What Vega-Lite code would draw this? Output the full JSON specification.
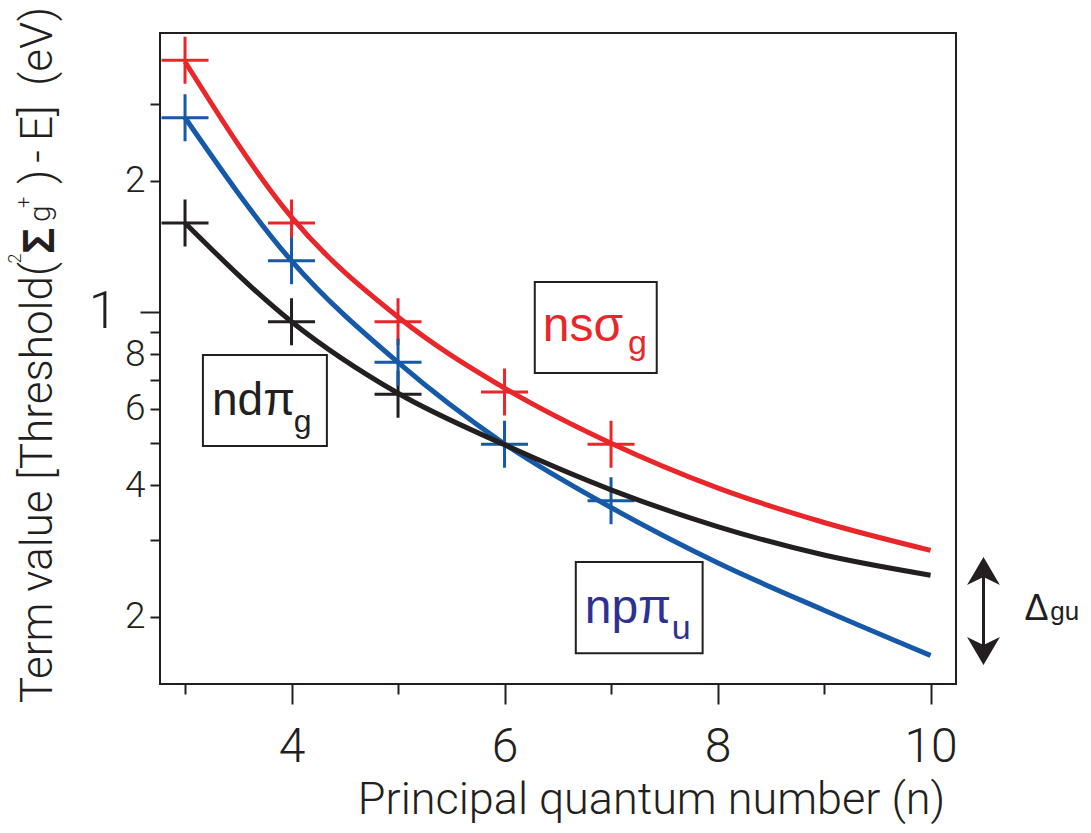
{
  "$schema": "https://vega.github.io/schema/vega-lite/v6.json",
  "width": 796,
  "height": 651,
  "autosize": {"type": "none"},
  "padding": {"left": 160, "top": 33, "right": 135, "bottom": 149},
  "background": "white",
  "config": {
    "view": {"stroke": "#231F20", "strokeWidth": 2},
    "text": {"font": "Roboto", "color": "#231F20"}
  },
  "datasets": {
    "curves": [
      {"series": "ns", "n": 3, "T": 3.75}, {"series": "ns", "n": 4, "T": 1.65}, {"series": "ns", "n": 5, "T": 0.974}, {"series": "ns", "n": 6, "T": 0.669},
      {"series": "ns", "n": 7, "T": 0.5}, {"series": "ns", "n": 8, "T": 0.395}, {"series": "ns", "n": 9, "T": 0.329}, {"series": "ns", "n": 10, "T": 0.284},
      {"series": "np", "n": 3, "T": 2.79}, {"series": "np", "n": 4, "T": 1.31}, {"series": "np", "n": 5, "T": 0.766}, {"series": "np", "n": 6, "T": 0.498},
      {"series": "np", "n": 7, "T": 0.356}, {"series": "np", "n": 8, "T": 0.266}, {"series": "np", "n": 9, "T": 0.207}, {"series": "np", "n": 10, "T": 0.163},
      {"series": "nd", "n": 3, "T": 1.6}, {"series": "nd", "n": 4, "T": 0.95}, {"series": "nd", "n": 5, "T": 0.651}, {"series": "nd", "n": 6, "T": 0.496},
      {"series": "nd", "n": 7, "T": 0.391}, {"series": "nd", "n": 8, "T": 0.322}, {"series": "nd", "n": 9, "T": 0.277}, {"series": "nd", "n": 10, "T": 0.249}
    ],
    "points": [
      {"series": "ns", "n": 3, "T": 3.78}, {"series": "ns", "n": 4, "T": 1.6}, {"series": "ns", "n": 5, "T": 0.95}, {"series": "ns", "n": 6, "T": 0.655}, {"series": "ns", "n": 7, "T": 0.497},
      {"series": "nd", "n": 3, "T": 1.6}, {"series": "nd", "n": 4, "T": 0.95}, {"series": "nd", "n": 5, "T": 0.648},
      {"series": "np", "n": 3, "T": 2.79}, {"series": "np", "n": 4, "T": 1.31}, {"series": "np", "n": 5, "T": 0.767}, {"series": "np", "n": 6, "T": 0.497}, {"series": "np", "n": 7, "T": 0.369}
    ]
  },
  "layer": [
    {
      "data": {"name": "points"},
      "mark": {"type": "point", "shape": "M-1,0L1,0M0,-1L0,1", "size": 2209, "strokeWidth": 3, "filled": false, "opacity": 1},
      "encoding": {
        "x": {
          "field": "n", "type": "quantitative",
          "scale": {"domain": [2.765, 10.239], "nice": false, "zero": false},
          "axis": {
            "values": [3, 4, 5, 6, 7, 8, 9, 10],
            "labelExpr": "datum.value % 2 == 0 ? format(datum.value, 'd') : ''",
            "tickSize": {"condition": {"test": "datum.value % 2 == 0", "value": 20}, "value": 10},
            "tickWidth": 2, "tickColor": "#231F20", "domain": false, "grid": false,
            "labelFont": "Roboto", "labelFontWeight": 300, "labelFontSize": 48, "labelColor": "#231F20",
            "labelPadding": 19, "labelFlush": false, "labelOverlap": false,
            "title": "Principal quantum number (n)", "titleFont": "Roboto", "titleFontSize": 45,
            "titleFontWeight": 300, "titleColor": "#231F20", "titleX": 491, "titleY": 129,
            "titleBaseline": "alphabetic", "titleAlign": "center"
          }
        },
        "y": {
          "field": "T", "type": "quantitative",
          "scale": {"type": "log", "domain": [0.1402, 4.364], "nice": false},
          "axis": {
            "values": [0.2, 0.3, 0.4, 0.5, 0.6, 0.7, 0.8, 0.9, 1, 2, 3],
            "labelExpr": "datum.value == 1 ? '1' : datum.value == 2 ? '2' : datum.value == 0.2 ? '2' : datum.value == 0.4 ? '4' : datum.value == 0.6 ? '6' : datum.value == 0.8 ? '8' : ''",
            "tickSize": {"condition": {"test": "datum.value == 1", "value": 20}, "value": 10},
            "labelFontSize": {"condition": {"test": "datum.value == 1", "value": 52}, "value": 37},
            "labelPadding": {"condition": {"test": "datum.value == 1", "value": 23}, "value": 5},
            "labelBaseline": "middle",
            "tickWidth": 2, "tickColor": "#231F20", "domain": false, "grid": false,
            "labelFont": "Roboto", "labelFontWeight": 300, "labelColor": "#231F20", "labelFlush": false, "labelOverlap": false,
            "title": null
          }
        },
        "color": {"field": "series", "type": "nominal", "scale": {"domain": ["ns", "np", "nd"], "range": ["#E9272B", "#1559A8", "#231F20"]}, "legend": null}
      }
    },
    {
      "data": {"name": "curves"},
      "transform": [{"filter": "datum.series == 'np'"}],
      "mark": {"type": "line", "interpolate": "monotone", "strokeWidth": 5, "color": "#1559A8"},
      "encoding": {"x": {"field": "n", "type": "quantitative"}, "y": {"field": "T", "type": "quantitative"}}
    },
    {
      "data": {"name": "curves"},
      "transform": [{"filter": "datum.series == 'nd'"}],
      "mark": {"type": "line", "interpolate": "monotone", "strokeWidth": 5, "color": "#231F20"},
      "encoding": {"x": {"field": "n", "type": "quantitative"}, "y": {"field": "T", "type": "quantitative"}}
    },
    {
      "data": {"name": "curves"},
      "transform": [{"filter": "datum.series == 'ns'"}],
      "mark": {"type": "line", "interpolate": "monotone", "strokeWidth": 5, "color": "#E9272B"},
      "encoding": {"x": {"field": "n", "type": "quantitative"}, "y": {"field": "T", "type": "quantitative"}}
    },
    {
      "data": {"values": [{"box": "nd"}]},
      "mark": {"type": "rect", "fill": "white", "stroke": "#231F20", "strokeWidth": 2},
      "encoding": {"x": {"datum": 3.168, "type": "quantitative"}, "x2": {"datum": 4.332}, "y": {"datum": 0.797, "type": "quantitative"}, "y2": {"datum": 0.493}}
    },
    {
      "data": {"values": [{"box": "ns"}]},
      "mark": {"type": "rect", "fill": "white", "stroke": "#231F20", "strokeWidth": 2},
      "encoding": {"x": {"datum": 6.284, "type": "quantitative"}, "x2": {"datum": 7.429}, "y": {"datum": 1.172, "type": "quantitative"}, "y2": {"datum": 0.725}}
    },
    {
      "data": {"values": [{"box": "np"}]},
      "mark": {"type": "rect", "fill": "white", "stroke": "#231F20", "strokeWidth": 2},
      "encoding": {"x": {"datum": 6.669, "type": "quantitative"}, "x2": {"datum": 7.86}, "y": {"datum": 0.267, "type": "quantitative"}, "y2": {"datum": 0.165}}
    },
    {
      "data": {"values": [{"t": "ndπ"}]},
      "mark": {"type": "text", "align": "left", "baseline": "alphabetic", "fontSize": 46, "font": "Liberation Sans", "color": "#231F20"},
      "encoding": {"x": {"datum": 3.253, "type": "quantitative"}, "y": {"datum": 0.58, "type": "quantitative"}, "text": {"field": "t"}}
    },
    {
      "data": {"values": [{"t": "g"}]},
      "mark": {"type": "text", "align": "left", "baseline": "alphabetic", "fontSize": 32, "font": "Liberation Sans", "color": "#231F20"},
      "encoding": {"x": {"datum": 4.02, "type": "quantitative"}, "y": {"datum": 0.531, "type": "quantitative"}, "text": {"field": "t"}}
    },
    {
      "data": {"values": [{"t": "nsσ"}]},
      "mark": {"type": "text", "align": "left", "baseline": "alphabetic", "fontSize": 48, "font": "Liberation Sans", "color": "#E9272B"},
      "encoding": {"x": {"datum": 6.359, "type": "quantitative"}, "y": {"datum": 0.858, "type": "quantitative"}, "text": {"field": "t"}}
    },
    {
      "data": {"values": [{"t": "g"}]},
      "mark": {"type": "text", "align": "left", "baseline": "alphabetic", "fontSize": 34, "font": "Liberation Sans", "color": "#E9272B"},
      "encoding": {"x": {"datum": 7.16, "type": "quantitative"}, "y": {"datum": 0.8, "type": "quantitative"}, "text": {"field": "t"}}
    },
    {
      "data": {"values": [{"t": "npπ"}]},
      "mark": {"type": "text", "align": "left", "baseline": "alphabetic", "fontSize": 48, "font": "Liberation Sans", "color": "#2E3192"},
      "encoding": {"x": {"datum": 6.753, "type": "quantitative"}, "y": {"datum": 0.194, "type": "quantitative"}, "text": {"field": "t"}}
    },
    {
      "data": {"values": [{"t": "u"}]},
      "mark": {"type": "text", "align": "left", "baseline": "alphabetic", "fontSize": 34, "font": "Liberation Sans", "color": "#2E3192"},
      "encoding": {"x": {"datum": 7.57, "type": "quantitative"}, "y": {"datum": 0.178, "type": "quantitative"}, "text": {"field": "t"}}
    },
    {
      "data": {"values": [{"t": "Δ"}]},
      "mark": {"type": "text", "align": "left", "baseline": "alphabetic", "fontSize": 36, "font": "Liberation Sans", "color": "#231F20"},
      "encoding": {"x": {"datum": 10.882, "type": "quantitative"}, "y": {"datum": 0.1966, "type": "quantitative"}, "text": {"field": "t"}}
    },
    {
      "data": {"values": [{"t": "gu"}]},
      "mark": {"type": "text", "align": "left", "baseline": "alphabetic", "fontSize": 26, "font": "Liberation Sans", "color": "#231F20"},
      "encoding": {"x": {"datum": 11.125, "type": "quantitative"}, "y": {"datum": 0.1966, "type": "quantitative"}, "text": {"field": "t"}}
    },
    {
      "data": {"values": [{"part": "shaft"}]},
      "mark": {"type": "rule", "strokeWidth": 3, "color": "#231F20"},
      "encoding": {"x": {"datum": 10.497, "type": "quantitative"}, "y": {"datum": 0.249, "type": "quantitative"}, "y2": {"datum": 0.172}}
    },
    {
      "data": {"values": [{"part": "head"}]},
      "mark": {"type": "point", "shape": "M0,-1L0.94,0.6L0,0.14L-0.94,0.6Z", "size": 1225, "filled": true, "opacity": 1, "color": "#231F20"},
      "encoding": {"x": {"datum": 10.497, "type": "quantitative"}, "y": {"datum": 0.25, "type": "quantitative"}}
    },
    {
      "data": {"values": [{"part": "head"}]},
      "mark": {"type": "point", "shape": "M0,1L0.94,-0.6L0,-0.14L-0.94,-0.6Z", "size": 1225, "filled": true, "opacity": 1, "color": "#231F20"},
      "encoding": {"x": {"datum": 10.497, "type": "quantitative"}, "y": {"datum": 0.17, "type": "quantitative"}}
    },
    {
      "data": {"values": [{"t": "Term value [Threshold("}]},
      "mark": {"type": "text", "angle": 270, "align": "right", "baseline": "alphabetic", "fontSize": 44, "fontWeight": 300, "font": "Roboto", "color": "#231F20"},
      "encoding": {"x": {"datum": 1.752, "type": "quantitative"}, "y": {"datum": 1.302, "type": "quantitative"}, "text": {"field": "t"}}
    },
    {
      "data": {"values": [{"t": "2"}]},
      "mark": {"type": "text", "angle": 270, "align": "left", "baseline": "alphabetic", "fontSize": 18, "fontWeight": 300, "font": "Roboto", "color": "#231F20"},
      "encoding": {"x": {"datum": 1.46, "type": "quantitative"}, "y": {"datum": 1.292, "type": "quantitative"}, "text": {"field": "t"}}
    },
    {
      "data": {"values": [{"t": "Σ"}]},
      "mark": {"type": "text", "angle": 270, "align": "left", "baseline": "alphabetic", "fontSize": 44, "fontWeight": "bold", "font": "Liberation Sans", "color": "#231F20"},
      "encoding": {"x": {"datum": 1.77, "type": "quantitative"}, "y": {"datum": 1.359, "type": "quantitative"}, "text": {"field": "t"}}
    },
    {
      "data": {"values": [{"t": "g"}]},
      "mark": {"type": "text", "angle": 270, "align": "left", "baseline": "alphabetic", "fontSize": 30, "fontWeight": 300, "font": "Roboto", "color": "#231F20"},
      "encoding": {"x": {"datum": 1.733, "type": "quantitative"}, "y": {"datum": 1.609, "type": "quantitative"}, "text": {"field": "t"}}
    },
    {
      "data": {"values": [{"t": "+"}]},
      "mark": {"type": "text", "angle": 270, "align": "left", "baseline": "alphabetic", "fontSize": 20, "fontWeight": 300, "font": "Roboto", "color": "#231F20"},
      "encoding": {"x": {"datum": 1.545, "type": "quantitative"}, "y": {"datum": 1.732, "type": "quantitative"}, "text": {"field": "t"}}
    },
    {
      "data": {"values": [{"t": ")"}]},
      "mark": {"type": "text", "angle": 270, "align": "left", "baseline": "alphabetic", "fontSize": 44, "fontWeight": 300, "font": "Roboto", "color": "#231F20"},
      "encoding": {"x": {"datum": 1.752, "type": "quantitative"}, "y": {"datum": 1.966, "type": "quantitative"}, "text": {"field": "t"}}
    },
    {
      "data": {"values": [{"t": "-"}]},
      "mark": {"type": "text", "angle": 270, "align": "center", "baseline": "alphabetic", "fontSize": 44, "fontWeight": 300, "font": "Roboto", "color": "#231F20"},
      "encoding": {"x": {"datum": 1.752, "type": "quantitative"}, "y": {"datum": 2.274, "type": "quantitative"}, "text": {"field": "t"}}
    },
    {
      "data": {"values": [{"t": "E]"}]},
      "mark": {"type": "text", "angle": 270, "align": "left", "baseline": "alphabetic", "fontSize": 44, "fontWeight": 300, "font": "Roboto", "color": "#231F20"},
      "encoding": {"x": {"datum": 1.752, "type": "quantitative"}, "y": {"datum": 2.467, "type": "quantitative"}, "text": {"field": "t"}}
    },
    {
      "data": {"values": [{"t": "(eV)"}]},
      "mark": {"type": "text", "angle": 270, "align": "right", "baseline": "alphabetic", "fontSize": 44, "fontWeight": 300, "font": "Roboto", "color": "#231F20"},
      "encoding": {"x": {"datum": 1.752, "type": "quantitative"}, "y": {"datum": 5.007, "type": "quantitative"}, "text": {"field": "t"}}
    }
  ]
}
